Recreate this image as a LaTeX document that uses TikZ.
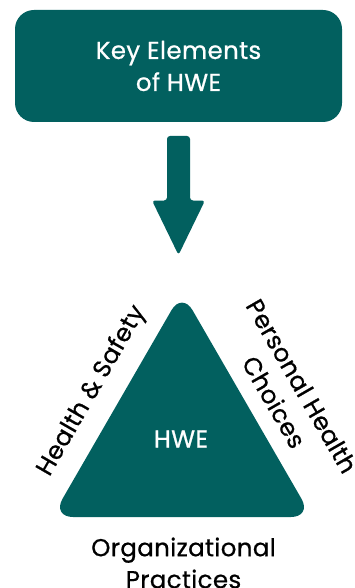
\documentclass[tikz,border=0pt]{standalone}
\usepackage{fontspec}
\setmainfont{Poppins}[FakeBold=0.7,LetterSpace=1.5]
\definecolor{hweteal}{RGB}{2,96,95}
\begin{document}
\begin{tikzpicture}[x=1pt,y=-1pt,
  every node/.style={font=\fontsize{24.5}{32}\selectfont},
  keybox/.style={fill=hweteal,rounded corners=19pt,minimum width=327pt,minimum height=112pt,text=white,align=center},
  side/.style={text=black,align=center,inner sep=0pt}]
  \useasboundingbox (0,0) rectangle (354,588);
  % top box and arrow
  \node[keybox] (key) at (178.5,66) {Key Elements\\of HWE};
  \fill[hweteal,rounded corners=3pt] (167,136) -- (190,136) -- (190,200.5)
    -- (205,200.5) -- (178.5,255) -- (152,200.5) -- (167,200.5) -- cycle;
  % triangle
  \fill[hweteal,rounded corners=21pt] (182,292) -- (312,517) -- (52,517) -- cycle;
  \node[text=white] (hwe) at (181,439) {HWE};
  \node[side,rotate=60] (safety) at (92,391) {Health \& Safety};
  \node[side,rotate=-60] (personal) at (288,394) {Personal Health\\Choices};
  \node[side] (org) at (183.5,563) {Organizational\\Practices};
\end{tikzpicture}
\end{document}
